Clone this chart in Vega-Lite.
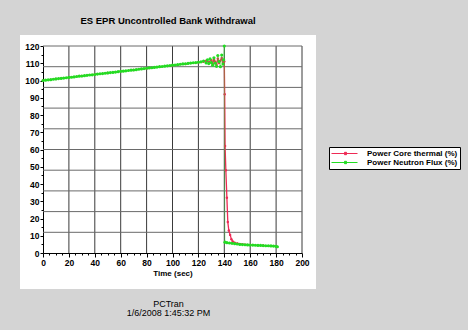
{
  "$schema": "https://vega.github.io/schema/vega-lite/v6.json",
  "autosize": "none",
  "width": 296,
  "height": 254,
  "padding": {"left": 20, "top": 35, "right": 152, "bottom": 41},
  "background": "#d4d4d4",
  "view": {"fill": "white", "stroke": null},
  "config": {
    "font": "Liberation Sans",
    "axis": {"labelOverlap": false, "labelFlush": false, "grid": false, "domainColor": "black", "tickColor": "black", "labelFont": "Liberation Sans", "labelFontSize": 8.5, "labelFontWeight": "bold", "labelColor": "black", "labelPadding": 1, "titleFont": "Liberation Sans", "titleFontSize": 8, "titleFontWeight": "bold", "titleColor": "black"}
  },
  "title": {"text": "ES EPR Uncontrolled Bank Withdrawal", "font": "Liberation Sans", "fontSize": 9.5, "fontWeight": "bold", "color": "black", "anchor": "middle", "offset": 10},
  "datasets": {
    "xgrid": [{"g": 20}, {"g": 40}, {"g": 60}, {"g": 80}, {"g": 100}, {"g": 120}, {"g": 140}, {"g": 160}, {"g": 180}, {"g": 200}],
    "ygrid": [{"g": 12}, {"g": 24}, {"g": 36}, {"g": 48}, {"g": 60}, {"g": 72}, {"g": 84}, {"g": 96}, {"g": 108}, {"g": 120}],
    "notes": [
      {"x": 96.9, "y": -29.3, "label": "PCTran"},
      {"x": 96.9, "y": -34.6, "label": "1/6/2008 1:45:32 PM"}
    ],
    "core": [
      {"t": 0, "v": 100.0, "s": "Power Core thermal (%)"},
      {"t": 10, "v": 100.9, "s": "Power Core thermal (%)"},
      {"t": 20, "v": 101.8, "s": "Power Core thermal (%)"},
      {"t": 30, "v": 102.6, "s": "Power Core thermal (%)"},
      {"t": 40, "v": 103.5, "s": "Power Core thermal (%)"},
      {"t": 50, "v": 104.4, "s": "Power Core thermal (%)"},
      {"t": 60, "v": 105.3, "s": "Power Core thermal (%)"},
      {"t": 70, "v": 106.1, "s": "Power Core thermal (%)"},
      {"t": 80, "v": 107.0, "s": "Power Core thermal (%)"},
      {"t": 90, "v": 107.9, "s": "Power Core thermal (%)"},
      {"t": 100, "v": 108.8, "s": "Power Core thermal (%)"},
      {"t": 110, "v": 109.6, "s": "Power Core thermal (%)"},
      {"t": 120, "v": 110.5, "s": "Power Core thermal (%)"},
      {"t": 124, "v": 110.9, "s": "Power Core thermal (%)"},
      {"t": 126, "v": 111.5, "s": "Power Core thermal (%)"},
      {"t": 128, "v": 110.6, "s": "Power Core thermal (%)"},
      {"t": 130, "v": 111.8, "s": "Power Core thermal (%)"},
      {"t": 131, "v": 109.7, "s": "Power Core thermal (%)"},
      {"t": 132, "v": 112.3, "s": "Power Core thermal (%)"},
      {"t": 133, "v": 110.9, "s": "Power Core thermal (%)"},
      {"t": 134, "v": 109.0, "s": "Power Core thermal (%)"},
      {"t": 135, "v": 112.8, "s": "Power Core thermal (%)"},
      {"t": 136, "v": 110.2, "s": "Power Core thermal (%)"},
      {"t": 137, "v": 111.5, "s": "Power Core thermal (%)"},
      {"t": 138, "v": 113.0, "s": "Power Core thermal (%)"},
      {"t": 139, "v": 110.5, "s": "Power Core thermal (%)"},
      {"t": 140, "v": 111.0, "s": "Power Core thermal (%)"},
      {"t": 140.3, "v": 92, "s": "Power Core thermal (%)"},
      {"t": 140.6, "v": 62, "s": "Power Core thermal (%)"},
      {"t": 141.2, "v": 48, "s": "Power Core thermal (%)"},
      {"t": 142, "v": 32, "s": "Power Core thermal (%)"},
      {"t": 142.7, "v": 18, "s": "Power Core thermal (%)"},
      {"t": 143.5, "v": 13, "s": "Power Core thermal (%)"},
      {"t": 144.5, "v": 10.5, "s": "Power Core thermal (%)"},
      {"t": 145.5, "v": 8, "s": "Power Core thermal (%)"},
      {"t": 146.5, "v": 6.7, "s": "Power Core thermal (%)"},
      {"t": 148, "v": 6.0, "s": "Power Core thermal (%)"},
      {"t": 150, "v": 5.5, "s": "Power Core thermal (%)"},
      {"t": 160, "v": 4.7, "s": "Power Core thermal (%)"},
      {"t": 170, "v": 4.3, "s": "Power Core thermal (%)"},
      {"t": 180, "v": 3.9, "s": "Power Core thermal (%)"}
    ],
    "flux": [
      {"t": 0, "v": 100.0, "s": "Power Neutron Flux (%)"},
      {"t": 2, "v": 100.2, "s": "Power Neutron Flux (%)"},
      {"t": 4, "v": 100.4, "s": "Power Neutron Flux (%)"},
      {"t": 6, "v": 100.5, "s": "Power Neutron Flux (%)"},
      {"t": 8, "v": 100.7, "s": "Power Neutron Flux (%)"},
      {"t": 10, "v": 100.9, "s": "Power Neutron Flux (%)"},
      {"t": 12, "v": 101.1, "s": "Power Neutron Flux (%)"},
      {"t": 14, "v": 101.2, "s": "Power Neutron Flux (%)"},
      {"t": 16, "v": 101.4, "s": "Power Neutron Flux (%)"},
      {"t": 18, "v": 101.6, "s": "Power Neutron Flux (%)"},
      {"t": 20, "v": 101.8, "s": "Power Neutron Flux (%)"},
      {"t": 22, "v": 101.9, "s": "Power Neutron Flux (%)"},
      {"t": 24, "v": 102.1, "s": "Power Neutron Flux (%)"},
      {"t": 26, "v": 102.3, "s": "Power Neutron Flux (%)"},
      {"t": 28, "v": 102.5, "s": "Power Neutron Flux (%)"},
      {"t": 30, "v": 102.6, "s": "Power Neutron Flux (%)"},
      {"t": 32, "v": 102.8, "s": "Power Neutron Flux (%)"},
      {"t": 34, "v": 103.0, "s": "Power Neutron Flux (%)"},
      {"t": 36, "v": 103.2, "s": "Power Neutron Flux (%)"},
      {"t": 38, "v": 103.3, "s": "Power Neutron Flux (%)"},
      {"t": 40, "v": 103.5, "s": "Power Neutron Flux (%)"},
      {"t": 42, "v": 103.7, "s": "Power Neutron Flux (%)"},
      {"t": 44, "v": 103.9, "s": "Power Neutron Flux (%)"},
      {"t": 46, "v": 104.0, "s": "Power Neutron Flux (%)"},
      {"t": 48, "v": 104.2, "s": "Power Neutron Flux (%)"},
      {"t": 50, "v": 104.4, "s": "Power Neutron Flux (%)"},
      {"t": 52, "v": 104.6, "s": "Power Neutron Flux (%)"},
      {"t": 54, "v": 104.7, "s": "Power Neutron Flux (%)"},
      {"t": 56, "v": 104.9, "s": "Power Neutron Flux (%)"},
      {"t": 58, "v": 105.1, "s": "Power Neutron Flux (%)"},
      {"t": 60, "v": 105.3, "s": "Power Neutron Flux (%)"},
      {"t": 62, "v": 105.4, "s": "Power Neutron Flux (%)"},
      {"t": 64, "v": 105.6, "s": "Power Neutron Flux (%)"},
      {"t": 66, "v": 105.8, "s": "Power Neutron Flux (%)"},
      {"t": 68, "v": 106.0, "s": "Power Neutron Flux (%)"},
      {"t": 70, "v": 106.1, "s": "Power Neutron Flux (%)"},
      {"t": 72, "v": 106.3, "s": "Power Neutron Flux (%)"},
      {"t": 74, "v": 106.5, "s": "Power Neutron Flux (%)"},
      {"t": 76, "v": 106.7, "s": "Power Neutron Flux (%)"},
      {"t": 78, "v": 106.9, "s": "Power Neutron Flux (%)"},
      {"t": 80, "v": 107.1, "s": "Power Neutron Flux (%)"},
      {"t": 82, "v": 107.3, "s": "Power Neutron Flux (%)"},
      {"t": 84, "v": 107.4, "s": "Power Neutron Flux (%)"},
      {"t": 86, "v": 107.6, "s": "Power Neutron Flux (%)"},
      {"t": 88, "v": 107.8, "s": "Power Neutron Flux (%)"},
      {"t": 90, "v": 108.0, "s": "Power Neutron Flux (%)"},
      {"t": 92, "v": 108.1, "s": "Power Neutron Flux (%)"},
      {"t": 94, "v": 108.3, "s": "Power Neutron Flux (%)"},
      {"t": 96, "v": 108.5, "s": "Power Neutron Flux (%)"},
      {"t": 98, "v": 108.7, "s": "Power Neutron Flux (%)"},
      {"t": 100, "v": 108.9, "s": "Power Neutron Flux (%)"},
      {"t": 102, "v": 109.0, "s": "Power Neutron Flux (%)"},
      {"t": 104, "v": 109.2, "s": "Power Neutron Flux (%)"},
      {"t": 106, "v": 109.4, "s": "Power Neutron Flux (%)"},
      {"t": 108, "v": 109.6, "s": "Power Neutron Flux (%)"},
      {"t": 110, "v": 109.7, "s": "Power Neutron Flux (%)"},
      {"t": 112, "v": 109.9, "s": "Power Neutron Flux (%)"},
      {"t": 114, "v": 110.1, "s": "Power Neutron Flux (%)"},
      {"t": 116, "v": 110.3, "s": "Power Neutron Flux (%)"},
      {"t": 118, "v": 110.4, "s": "Power Neutron Flux (%)"},
      {"t": 120, "v": 110.6, "s": "Power Neutron Flux (%)"},
      {"t": 122, "v": 110.8, "s": "Power Neutron Flux (%)"},
      {"t": 124, "v": 111.3, "s": "Power Neutron Flux (%)"},
      {"t": 126, "v": 110.2, "s": "Power Neutron Flux (%)"},
      {"t": 127, "v": 112.0, "s": "Power Neutron Flux (%)"},
      {"t": 128, "v": 109.8, "s": "Power Neutron Flux (%)"},
      {"t": 129, "v": 112.5, "s": "Power Neutron Flux (%)"},
      {"t": 130, "v": 110.4, "s": "Power Neutron Flux (%)"},
      {"t": 131, "v": 108.9, "s": "Power Neutron Flux (%)"},
      {"t": 132, "v": 113.2, "s": "Power Neutron Flux (%)"},
      {"t": 133, "v": 110.0, "s": "Power Neutron Flux (%)"},
      {"t": 134, "v": 108.2, "s": "Power Neutron Flux (%)"},
      {"t": 135, "v": 114.5, "s": "Power Neutron Flux (%)"},
      {"t": 136, "v": 111.0, "s": "Power Neutron Flux (%)"},
      {"t": 137, "v": 108.0, "s": "Power Neutron Flux (%)"},
      {"t": 138, "v": 114.8, "s": "Power Neutron Flux (%)"},
      {"t": 139, "v": 109.5, "s": "Power Neutron Flux (%)"},
      {"t": 139.5, "v": 112.0, "s": "Power Neutron Flux (%)"},
      {"t": 140, "v": 120.0, "s": "Power Neutron Flux (%)"},
      {"t": 140.5, "v": 6.3, "s": "Power Neutron Flux (%)"},
      {"t": 142, "v": 6.0, "s": "Power Neutron Flux (%)"},
      {"t": 144, "v": 5.8, "s": "Power Neutron Flux (%)"},
      {"t": 146, "v": 5.6, "s": "Power Neutron Flux (%)"},
      {"t": 148, "v": 5.4, "s": "Power Neutron Flux (%)"},
      {"t": 150, "v": 5.2, "s": "Power Neutron Flux (%)"},
      {"t": 152, "v": 5.0, "s": "Power Neutron Flux (%)"},
      {"t": 154, "v": 4.9, "s": "Power Neutron Flux (%)"},
      {"t": 156, "v": 4.8, "s": "Power Neutron Flux (%)"},
      {"t": 158, "v": 4.7, "s": "Power Neutron Flux (%)"},
      {"t": 160, "v": 4.6, "s": "Power Neutron Flux (%)"},
      {"t": 162, "v": 4.6, "s": "Power Neutron Flux (%)"},
      {"t": 164, "v": 4.5, "s": "Power Neutron Flux (%)"},
      {"t": 166, "v": 4.4, "s": "Power Neutron Flux (%)"},
      {"t": 168, "v": 4.4, "s": "Power Neutron Flux (%)"},
      {"t": 170, "v": 4.3, "s": "Power Neutron Flux (%)"},
      {"t": 172, "v": 4.2, "s": "Power Neutron Flux (%)"},
      {"t": 174, "v": 4.2, "s": "Power Neutron Flux (%)"},
      {"t": 176, "v": 4.1, "s": "Power Neutron Flux (%)"},
      {"t": 178, "v": 4.0, "s": "Power Neutron Flux (%)"},
      {"t": 180, "v": 3.8, "s": "Power Neutron Flux (%)"},
      {"t": 181, "v": 3.6, "s": "Power Neutron Flux (%)"}
    ]
  },
  "layer": [
    {
      "data": {"name": "xgrid"},
      "mark": {"type": "rule", "color": "#3a3a3a", "strokeWidth": 1},
      "encoding": {
        "x": {"field": "g", "type": "quantitative", "scale": {"domain": [0, 200], "range": [23, 282], "nice": false, "zero": false},
          "axis": {"values": [0,5,10,15,20,25,30,35,40,45,50,55,60,65,70,75,80,85,90,95,100,105,110,115,120,125,130,135,140,145,150,155,160,165,170,175,180,185,190,195,200],
            "labelExpr": "datum.value % 20 === 0 ? datum.label : ''", "offset": -36,
            "tickSize": {"condition": {"test": "datum.value % 20 === 0", "value": 4}, "value": 2},
            "title": "Time (sec)", "titlePadding": 3}},
        "y": {"datum": 0, "type": "quantitative",
          "axis": {"values": [0,5,10,15,20,25,30,35,40,45,50,55,60,65,70,75,80,85,90,95,100,105,110,115,120],
            "labelExpr": "datum.value % 10 === 0 ? datum.label : ''", "offset": -23,
            "tickSize": {"condition": {"test": "datum.value % 10 === 0", "value": 3}, "value": 2}, "title": null}},
        "y2": {"datum": 120}
      }
    },
    {
      "data": {"name": "ygrid"},
      "mark": {"type": "rule", "color": "#6a6a6a", "strokeWidth": 1},
      "encoding": {
        "y": {"field": "g", "type": "quantitative", "scale": {"domain": [0, 120], "range": [218, 11], "nice": false, "zero": false},
          "axis": {"values": [0,5,10,15,20,25,30,35,40,45,50,55,60,65,70,75,80,85,90,95,100,105,110,115,120],
            "labelExpr": "datum.value % 10 === 0 ? datum.label : ''", "offset": -23,
            "tickSize": {"condition": {"test": "datum.value % 10 === 0", "value": 3}, "value": 2}, "title": null}},
        "x": {"datum": 0, "type": "quantitative",
          "axis": {"values": [0,5,10,15,20,25,30,35,40,45,50,55,60,65,70,75,80,85,90,95,100,105,110,115,120,125,130,135,140,145,150,155,160,165,170,175,180,185,190,195,200],
            "labelExpr": "datum.value % 20 === 0 ? datum.label : ''", "offset": -36,
            "tickSize": {"condition": {"test": "datum.value % 20 === 0", "value": 4}, "value": 2},
            "title": "Time (sec)", "titlePadding": 3}},
        "x2": {"datum": 200}
      }
    },
    {
      "data": {"name": "core"},
      "mark": {"type": "line", "strokeWidth": 1.3, "clip": false, "point": {"filled": true, "size": 6}},
      "encoding": {
        "x": {"field": "t", "type": "quantitative",
          "axis": {"values": [0,5,10,15,20,25,30,35,40,45,50,55,60,65,70,75,80,85,90,95,100,105,110,115,120,125,130,135,140,145,150,155,160,165,170,175,180,185,190,195,200],
            "labelExpr": "datum.value % 20 === 0 ? datum.label : ''", "offset": -36,
            "tickSize": {"condition": {"test": "datum.value % 20 === 0", "value": 4}, "value": 2},
            "title": "Time (sec)", "titlePadding": 3}},
        "y": {"field": "v", "type": "quantitative",
          "axis": {"values": [0,5,10,15,20,25,30,35,40,45,50,55,60,65,70,75,80,85,90,95,100,105,110,115,120],
            "labelExpr": "datum.value % 10 === 0 ? datum.label : ''", "offset": -23,
            "tickSize": {"condition": {"test": "datum.value % 10 === 0", "value": 3}, "value": 2}, "title": null}},
        "color": {"field": "s", "type": "nominal",
          "scale": {"domain": ["Power Core thermal (%)", "Power Neutron Flux (%)"], "range": ["#ee2a55", "#22dd22"]},
          "legend": {"orient": "none", "legendX": 309, "legendY": 112, "title": null, "fillColor": "white", "strokeColor": "black", "padding": 2,
            "symbolType": "M-1,0H5.5M2.25,-0.3H2.75V0.3H2.25Z", "symbolSize": 64, "symbolStrokeWidth": 1, "symbolOpacity": 1, "rowPadding": 0, "labelOffset": 27,
            "labelFont": "Liberation Sans", "labelFontSize": 8, "labelFontWeight": "bold", "labelColor": "black"}}
      }
    },
    {
      "data": {"name": "flux"},
      "mark": {"type": "line", "strokeWidth": 0.8, "strokeOpacity": 0.45, "clip": false, "point": {"filled": true, "size": 10, "opacity": 1}},
      "encoding": {
        "x": {"field": "t", "type": "quantitative",
          "axis": {"values": [0,5,10,15,20,25,30,35,40,45,50,55,60,65,70,75,80,85,90,95,100,105,110,115,120,125,130,135,140,145,150,155,160,165,170,175,180,185,190,195,200],
            "labelExpr": "datum.value % 20 === 0 ? datum.label : ''", "offset": -36,
            "tickSize": {"condition": {"test": "datum.value % 20 === 0", "value": 4}, "value": 2},
            "title": "Time (sec)", "titlePadding": 3}},
        "y": {"field": "v", "type": "quantitative",
          "axis": {"values": [0,5,10,15,20,25,30,35,40,45,50,55,60,65,70,75,80,85,90,95,100,105,110,115,120],
            "labelExpr": "datum.value % 10 === 0 ? datum.label : ''", "offset": -23,
            "tickSize": {"condition": {"test": "datum.value % 10 === 0", "value": 3}, "value": 2}, "title": null}},
        "color": {"field": "s", "type": "nominal"}
      }
    },
    {
      "data": {"name": "notes"},
      "mark": {"type": "text", "font": "Liberation Sans", "fontSize": 9, "color": "black", "baseline": "middle", "align": "center", "clip": false},
      "encoding": {
        "x": {"field": "x", "type": "quantitative",
          "axis": {"values": [0,5,10,15,20,25,30,35,40,45,50,55,60,65,70,75,80,85,90,95,100,105,110,115,120,125,130,135,140,145,150,155,160,165,170,175,180,185,190,195,200],
            "labelExpr": "datum.value % 20 === 0 ? datum.label : ''", "offset": -36,
            "tickSize": {"condition": {"test": "datum.value % 20 === 0", "value": 4}, "value": 2},
            "title": "Time (sec)", "titlePadding": 3}},
        "y": {"field": "y", "type": "quantitative",
          "axis": {"values": [0,5,10,15,20,25,30,35,40,45,50,55,60,65,70,75,80,85,90,95,100,105,110,115,120],
            "labelExpr": "datum.value % 10 === 0 ? datum.label : ''", "offset": -23,
            "tickSize": {"condition": {"test": "datum.value % 10 === 0", "value": 3}, "value": 2}, "title": null}},
        "text": {"field": "label"}
      }
    }
  ]
}
